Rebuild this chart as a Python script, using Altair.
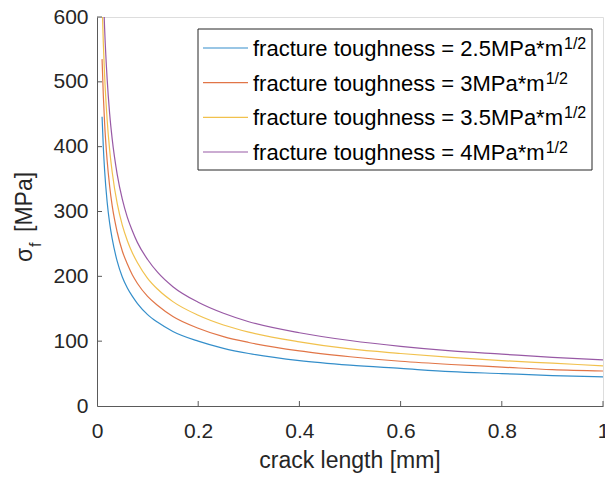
import altair as alt
import pandas as pd

# ---- data ----
crack_mm = [0.01, 0.0125, 0.015, 0.02, 0.025, 0.03, 0.04, 0.05, 0.06, 0.07, 0.08,
            0.1, 0.12, 0.15, 0.2, 0.25, 0.3, 0.4, 0.5, 0.6, 0.7, 0.8, 0.9, 1.0]
sigma_k25 = [446, 399, 364, 315, 282, 258, 223, 199, 182, 169, 158,
             141, 129, 115, 100, 89, 81, 70, 63, 58, 53, 50, 47, 45]
sigma_k30 = [535, 479, 437, 379, 339, 309, 268, 239, 219, 202, 189,
             169, 155, 138, 120, 107, 98, 85, 76, 69, 64, 60, 56, 54]
sigma_k35 = [624, 559, 510, 442, 395, 361, 312, 279, 255, 236, 221,
             197, 180, 161, 140, 125, 114, 99, 88, 81, 75, 70, 66, 62]
sigma_k40 = [714, 639, 583, 505, 451, 412, 357, 319, 291, 270, 252,
             226, 206, 184, 160, 143, 130, 113, 101, 92, 85, 80, 75, 71]

series_keys = ["2.5", "3", "3.5", "4"]
legend_labels = ["fracture toughness = 2.5MPa*m", "fracture toughness = 3MPa*m",
                 "fracture toughness = 3.5MPa*m", "fracture toughness = 4MPa*m"]
colors = ["#0072BD", "#D95319", "#EDB120", "#7E2F8E"]
x_ticks = [0, 0.2, 0.4, 0.6, 0.8, 1]
y_ticks = [0, 100, 200, 300, 400, 500, 600]

rows = []
for key, vals in zip(series_keys, [sigma_k25, sigma_k30, sigma_k35, sigma_k40]):
    for a, s in zip(crack_mm, vals):
        rows.append({"a": a, "s": s, "K": key})
df = pd.DataFrame(rows)

# ---- layout ----
W, H = 506, 389
AX = "#262626"
DOM = "#5a5a5a"
FONT = "Liberation Sans"
LINE_OP = 0.8
dummy = pd.DataFrame({"d": [0]})

x_scale = alt.Scale(domain=[0, 1], nice=False, zero=False)
y_scale = alt.Scale(domain=[0, 600], nice=False)
x_axis = alt.Axis(values=x_ticks, format="~g", title=None, grid=False,
                  ticks=False, labelPadding=14, labelFontSize=21, labelFlush=False,
                  labelColor=AX, domainColor=DOM, labelFont=FONT)
y_axis = alt.Axis(values=y_ticks, title=None, grid=False, ticks=False,
                  labelPadding=9, labelFontSize=21, labelColor=AX, labelFlush=False,
                  domainColor=DOM, labelFont=FONT)

lines = alt.Chart(df).mark_line(clip=True, strokeWidth=1.2, interpolate="monotone",
                                opacity=LINE_OP).encode(
    x=alt.X("a:Q", scale=x_scale, axis=x_axis),
    y=alt.Y("s:Q", scale=y_scale, axis=y_axis),
    color=alt.Color("K:N", scale=alt.Scale(domain=series_keys, range=colors), legend=None),
)

xt = alt.Chart(pd.DataFrame({"t": x_ticks[1:]})).mark_rule(color=DOM, strokeWidth=1).encode(
    x=alt.X("t:Q", scale=x_scale, axis=x_axis), y=alt.value(H), y2=alt.value(H - 5))
yt = alt.Chart(pd.DataFrame({"t": y_ticks[1:]})).mark_rule(color=DOM, strokeWidth=1).encode(
    y=alt.Y("t:Q", scale=y_scale, axis=y_axis), x=alt.value(0), x2=alt.value(5))

layers = [lines, xt, yt]

# legend box
layers.append(alt.Chart(dummy).mark_rect(fill="white", stroke=AX, strokeWidth=1).encode(
    x=alt.value(101), x2=alt.value(495), y=alt.value(12), y2=alt.value(153)))

row_y = [31, 65.7, 100.3, 135]
# text widths in em for Liberation Sans (Arial metrics)
label_em = [14.09, 13.256, 14.09, 13.256]
for lab, col, ry, em in zip(legend_labels, colors, row_y, label_em):
    layers.append(alt.Chart(dummy).mark_rule(color=col, strokeWidth=1.2, opacity=LINE_OP).encode(
        x=alt.value(106), x2=alt.value(151), y=alt.value(ry)))
    layers.append(alt.Chart(dummy).mark_text(align="left", baseline="alphabetic",
                                             fontSize=22, font=FONT, color="#000000").encode(
        x=alt.value(156), y=alt.value(ry + 8), text=alt.value(lab)))
    layers.append(alt.Chart(dummy).mark_text(align="left", baseline="alphabetic",
                                             fontSize=16, font=FONT, color="#000000").encode(
        x=alt.value(156 + em * 22 + 1), y=alt.value(ry + 1), text=alt.value("1/2")))

# x title
layers.append(alt.Chart(dummy).mark_text(align="center", baseline="alphabetic",
                                         fontSize=23, font=FONT, color=AX).encode(
    x=alt.value(W / 2), y=alt.value(451), text=alt.value("crack length [mm]")))

# y title: sigma with subscript f
layers.append(alt.Chart(dummy).mark_text(align="left", baseline="alphabetic", angle=270,
                                         fontSize=23, font=FONT, color=AX).encode(
    x=alt.value(32 - 97), y=alt.value(262 - 17), text=alt.value("σ")))
layers.append(alt.Chart(dummy).mark_text(align="left", baseline="alphabetic", angle=270,
                                         fontSize=16, font=FONT, color=AX).encode(
    x=alt.value(41 - 97), y=alt.value(247 - 17), text=alt.value("f")))
layers.append(alt.Chart(dummy).mark_text(align="left", baseline="alphabetic", angle=270,
                                         fontSize=23, font=FONT, color=AX).encode(
    x=alt.value(32 - 97), y=alt.value(232 - 17), text=alt.value("[MPa]")))

chart = alt.layer(*layers).properties(
    width=W, height=H,
    autosize=alt.AutoSizeParams(type="none"),
    padding={"left": 97, "top": 17, "right": 2, "bottom": 71},
).configure_view(stroke=None).configure(font=FONT, background="white")

chart.save("out.html", embed_options={"renderer": "svg", "actions": False})
